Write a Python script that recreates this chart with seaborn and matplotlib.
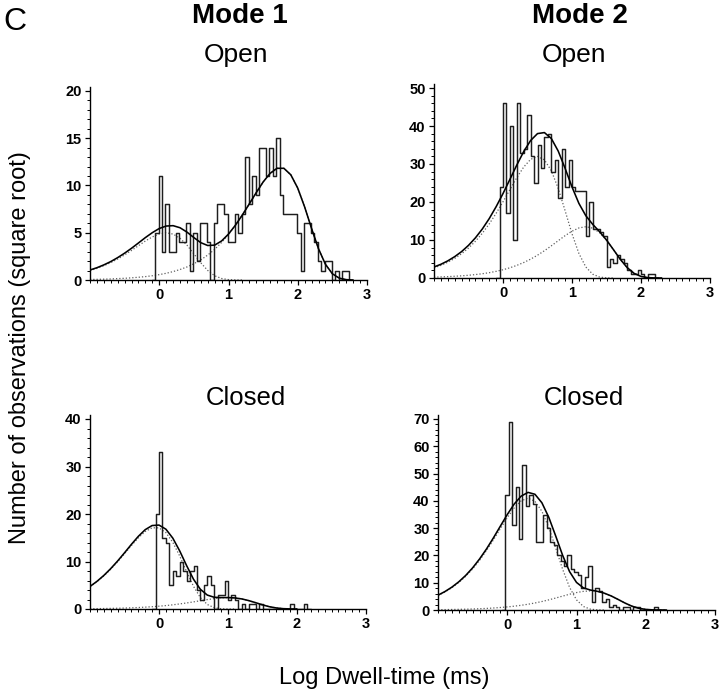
import matplotlib
matplotlib.use("Agg")
import matplotlib.pyplot as plt
from matplotlib.ticker import MultipleLocator
import seaborn as sns

# ---------------- data ----------------
bin_width = 0.05          # log-units per histogram bin
fit_start = -1.0          # first x of the fitted curves
fit_step = 0.1            # x spacing of the fitted-curve samples

# Mode 1 - Open
m1_open_first_edge = -0.06
m1_open_counts = [5, 11, 3, 8, 3, 3, 5, 4, 4, 6, 1, 5, 2, 6, 6, 4, 0, 6, 8, 8,
                  7, 4, 4, 7, 5, 7, 13, 8, 11, 9, 14, 14, 11, 14, 11, 15, 9, 7,
                  7, 7, 7, 5, 1, 6, 6, 5, 4, 2, 1, 2, 2, 0, 1, 0, 1, 1]
m1_open_fit = [1.06, 1.30, 1.60, 1.95, 2.37, 2.84, 3.36, 3.92, 4.49, 5.01, 5.45,
               5.71, 5.75, 5.53, 5.07, 4.49, 3.95, 3.65, 3.69, 4.13, 4.86, 5.80,
               6.88, 8.05, 9.24, 10.37, 11.28, 11.82, 11.82, 11.13, 9.72, 7.72,
               5.44, 3.30, 1.66, 0.66, 0.19, 0.04, 0.00]
m1_open_comp1 = [1.00, 1.23, 1.51, 1.84, 2.22, 2.66, 3.13, 3.63, 4.13, 4.56,
                 4.88, 5.00, 4.86, 4.42, 3.69, 2.77, 1.82, 1.01, 0.45, 0.16,
                 0.04, 0.01, 0.00]
m1_open_comp2 = [0.06, 0.07, 0.09, 0.11, 0.15, 0.18, 0.23, 0.29, 0.36, 0.45,
                 0.57, 0.71, 0.89, 1.11, 1.38, 1.72, 2.13, 2.64, 3.24, 3.97,
                 4.82, 5.79, 6.88, 8.05, 9.24, 10.37, 11.28, 11.82, 11.82,
                 11.13, 9.72, 7.72, 5.44, 3.30, 1.66, 0.66, 0.19, 0.04, 0.00]

# Mode 2 - Open
m2_open_first_edge = -0.05
m2_open_counts = [24, 46, 17, 40, 10, 46, 33, 34, 43, 32, 25, 35, 29, 37, 38,
                  28, 31, 21, 34, 24, 31, 24, 23, 23, 23, 11, 20, 13, 13, 12,
                  11, 3, 5, 4, 6, 5, 4, 2, 1, 1, 2, 1, 0, 1, 1]
m2_open_fit = [2.90, 3.61, 4.51, 5.62, 6.95, 8.59, 10.56, 12.89, 15.62, 18.75,
               22.22, 25.95, 29.73, 33.27, 36.18, 38.00, 38.27, 36.72, 33.41,
               28.86, 23.96, 19.63, 16.40, 14.12, 12.17, 10.00, 7.48, 4.91,
               2.73, 1.22, 0.42, 0.10, 0.02, 0.00]
m2_open_comp1 = [2.67, 3.32, 4.15, 5.16, 6.38, 7.87, 9.66, 11.77, 14.22, 17.00,
                 20.05, 23.26, 26.41, 29.20, 31.22, 32.00, 31.10, 28.26, 23.60,
                 17.72, 11.64, 6.46, 2.90, 1.00, 0.25, 0.04, 0.00]
m2_open_comp2 = [0.23, 0.29, 0.36, 0.46, 0.57, 0.72, 0.90, 1.12, 1.40, 1.75,
                 2.17, 2.69, 3.32, 4.07, 4.96, 6.00, 7.17, 8.46, 9.81, 11.14,
                 12.32, 13.17, 13.50, 13.12, 11.92, 9.96, 7.48, 4.91, 2.73,
                 1.22, 0.42, 0.10, 0.02, 0.00]

# Mode 1 - Closed
m1_closed_first_edge = -0.05
m1_closed_counts = [20, 33, 15, 14, 5, 8, 7, 10, 8, 6, 8, 9, 4, 2, 5, 7, 5, 0,
                    3, 3, 6, 2, 3, 2, 0, 1, 0, 1, 1, 0, 1, 0, 0, 0, 0, 0, 0, 0,
                    0, 1, 0, 0, 0, 1]
m1_closed_fit = [4.75, 5.81, 7.06, 8.50, 10.10, 11.83, 13.61, 15.29, 16.70,
                 17.57, 17.67, 16.80, 14.92, 12.23, 9.14, 6.27, 4.14, 2.93,
                 2.47, 2.40, 2.41, 2.33, 2.12, 1.77, 1.33, 0.87, 0.48, 0.22,
                 0.07, 0.02, 0.00]
m1_closed_comp1 = [4.69, 5.73, 6.96, 8.37, 9.94, 11.63, 13.36, 14.98, 16.31,
                   17.09, 17.08, 16.08, 14.04, 11.16, 7.87, 4.77, 2.40, 0.95,
                   0.28, 0.06, 0.01, 0.00]
m1_closed_comp2 = [0.06, 0.08, 0.10, 0.13, 0.16, 0.20, 0.25, 0.31, 0.39, 0.48,
                   0.59, 0.72, 0.88, 1.07, 1.27, 1.50, 1.74, 1.98, 2.19, 2.34,
                   2.40, 2.33, 2.12, 1.77, 1.33, 0.87, 0.48, 0.22, 0.07, 0.02,
                   0.00]

# Mode 2 - Closed
m2_closed_first_edge = -0.03
m2_closed_counts = [42, 69, 31, 45, 26, 53, 38, 42, 39, 25, 25, 35, 30, 25, 24,
                    20, 18, 16, 20, 15, 14, 13, 8, 12, 16, 3, 8, 7, 3, 4, 1, 2,
                    1, 0, 1, 1, 0, 1, 1, 0, 0, 0, 0, 1]
m2_closed_fit = [5.43, 6.76, 8.37, 10.33, 12.67, 15.45, 18.69, 22.36, 26.42,
                 30.71, 34.97, 38.82, 41.72, 43.11, 42.41, 39.31, 33.96, 27.10,
                 20.01, 14.06, 10.11, 8.11, 7.32, 6.85, 6.18, 5.16, 3.88, 2.55,
                 1.41, 0.63, 0.22, 0.05, 0.01, 0.00]
m2_closed_comp1 = [5.31, 6.61, 8.18, 10.09, 12.37, 15.08, 18.22, 21.78, 25.69,
                   29.80, 33.84, 37.42, 40.00, 41.00, 39.84, 36.20, 30.24,
                   22.71, 14.92, 8.28, 3.72, 1.28, 0.32, 0.05, 0.00]
m2_closed_comp2 = [0.12, 0.15, 0.19, 0.24, 0.30, 0.37, 0.47, 0.58, 0.73, 0.91,
                   1.13, 1.40, 1.72, 2.11, 2.57, 3.11, 3.72, 4.39, 5.09, 5.78,
                   6.39, 6.83, 7.00, 6.80, 6.18, 5.16, 3.88, 2.55, 1.41, 0.63,
                   0.22, 0.05, 0.01, 0.00]

x_ticks = [0, 1, 2, 3]
m1_open_yticks = [0, 5, 10, 15, 20]
m2_open_yticks = [0, 10, 20, 30, 40, 50]
m1_closed_yticks = [0, 10, 20, 30, 40]
m2_closed_yticks = [0, 10, 20, 30, 40, 50, 60, 70]

column_titles = ["Mode 1", "Mode 2"]
panel_titles = ["Open", "Open", "Closed", "Closed"]
panel_letter = "C"
x_label = "Log Dwell-time (ms)"
y_label = "Number of observations (square root)"

# ---------------- style / layout ----------------
sns.set_theme(style="ticks")
plt.rcParams["font.family"] = ["Liberation Sans", "DejaVu Sans"]
plt.rcParams["axes.linewidth"] = 1.0
plt.rcParams["axes.edgecolor"] = "black"
plt.rcParams["text.color"] = "black"
plt.rcParams["axes.labelcolor"] = "black"
plt.rcParams["xtick.color"] = "black"
plt.rcParams["ytick.color"] = "black"
plt.rcParams["xtick.labelcolor"] = "black"
plt.rcParams["ytick.labelcolor"] = "black"

W, H = 720, 694
fig = plt.figure(figsize=(W / 100, H / 100), dpi=100)
fig.patch.set_facecolor("white")

panels = [
    dict(first=m1_open_first_edge, counts=m1_open_counts, fit=m1_open_fit,
         c1=m1_open_comp1, c2=m1_open_comp2, yticks=m1_open_yticks,
         yminor=1, box=(90, 367, 280, 91)),
    dict(first=m2_open_first_edge, counts=m2_open_counts, fit=m2_open_fit,
         c1=m2_open_comp1, c2=m2_open_comp2, yticks=m2_open_yticks,
         yminor=2, box=(434, 710, 278, 88)),
    dict(first=m1_closed_first_edge, counts=m1_closed_counts, fit=m1_closed_fit,
         c1=m1_closed_comp1, c2=m1_closed_comp2, yticks=m1_closed_yticks,
         yminor=2, box=(90, 366, 609, 419)),
    dict(first=m2_closed_first_edge, counts=m2_closed_counts, fit=m2_closed_fit,
         c1=m2_closed_comp1, c2=m2_closed_comp2, yticks=m2_closed_yticks,
         yminor=2, box=(438, 715, 610, 419)),
]

for p in panels:
    xl, xr, y0, yt = p["box"]
    ymax = p["yticks"][-1]
    ext = 1.02
    top_px = y0 - (y0 - yt) * ext
    ax = fig.add_axes([xl / W, 1 - y0 / H, (xr - xl) / W, (y0 - top_px) / H])
    ax.set_facecolor("white")

    n = len(p["counts"])
    lo = p["first"]
    centers = [lo + bin_width * (i + 0.5) for i in range(n)]
    edges = [lo + bin_width * (k - 1) for k in range(n + 3)]

    # component fits (dotted)
    for comp in (p["c1"], p["c2"]):
        xs = [fit_start + fit_step * i for i in range(len(comp))]
        sns.lineplot(x=xs, y=comp, ax=ax, color="#606060", linewidth=0.9,
                     linestyle=(0, (1, 1.6)), estimator=None, sort=False)
    # histogram (step outline)
    sns.histplot(x=centers, weights=p["counts"], bins=edges, element="step",
                 fill=False, color="#1e1e1e", linewidth=1.05, ax=ax)
    # total fit (solid)
    xs = [fit_start + fit_step * i for i in range(len(p["fit"]))]
    sns.lineplot(x=xs, y=p["fit"], ax=ax, color="black", linewidth=1.15,
                 estimator=None, sort=False)

    ax.set_xlim(-1, 3)
    ax.set_ylim(0, ymax * ext)
    ax.set_xticks(x_ticks)
    ax.xaxis.set_minor_locator(MultipleLocator(0.1))
    ax.set_yticks(p["yticks"])
    ax.yaxis.set_minor_locator(MultipleLocator(p["yminor"]))
    ax.set_xlabel("")
    ax.set_ylabel("")
    sns.despine(ax=ax)
    ax.tick_params(which="major", length=3.5, width=0.9, pad=2.5,
                   labelsize=10.5, direction="out", colors="black")
    ax.tick_params(which="minor", length=2.0, width=0.7, direction="out",
                   colors="black")
    for lab in ax.get_xticklabels() + ax.get_yticklabels():
        lab.set_fontweight("bold")
        lab.set_color("black")

# ---------------- texts ----------------
def fx(px):
    return px / W

def fy(py):
    return 1 - py / H

txt = dict(color="black")
fig.text(fx(14.5), fy(30), panel_letter, fontsize=23, ha="center",
         va="baseline", **txt)
fig.text(fx(240), fy(23), column_titles[0], fontsize=20, fontweight="bold",
         ha="center", va="baseline", **txt)
fig.text(fx(580), fy(23), column_titles[1], fontsize=20, fontweight="bold",
         ha="center", va="baseline", **txt)
fig.text(fx(236), fy(62), panel_titles[0], fontsize=19, ha="center",
         va="baseline", **txt)
fig.text(fx(574), fy(62), panel_titles[1], fontsize=19, ha="center",
         va="baseline", **txt)
fig.text(fx(246), fy(405), panel_titles[2], fontsize=18.5, ha="center",
         va="baseline", **txt)
fig.text(fx(584), fy(405), panel_titles[3], fontsize=18.5, ha="center",
         va="baseline", **txt)
fig.text(fx(384), fy(684), x_label, fontsize=17, ha="center",
         va="baseline", **txt)
fig.text(fx(20), fy(348), y_label, fontsize=17, rotation=90,
         ha="center", va="center", **txt)

fig.savefig("out.png", dpi=100, facecolor="white")
